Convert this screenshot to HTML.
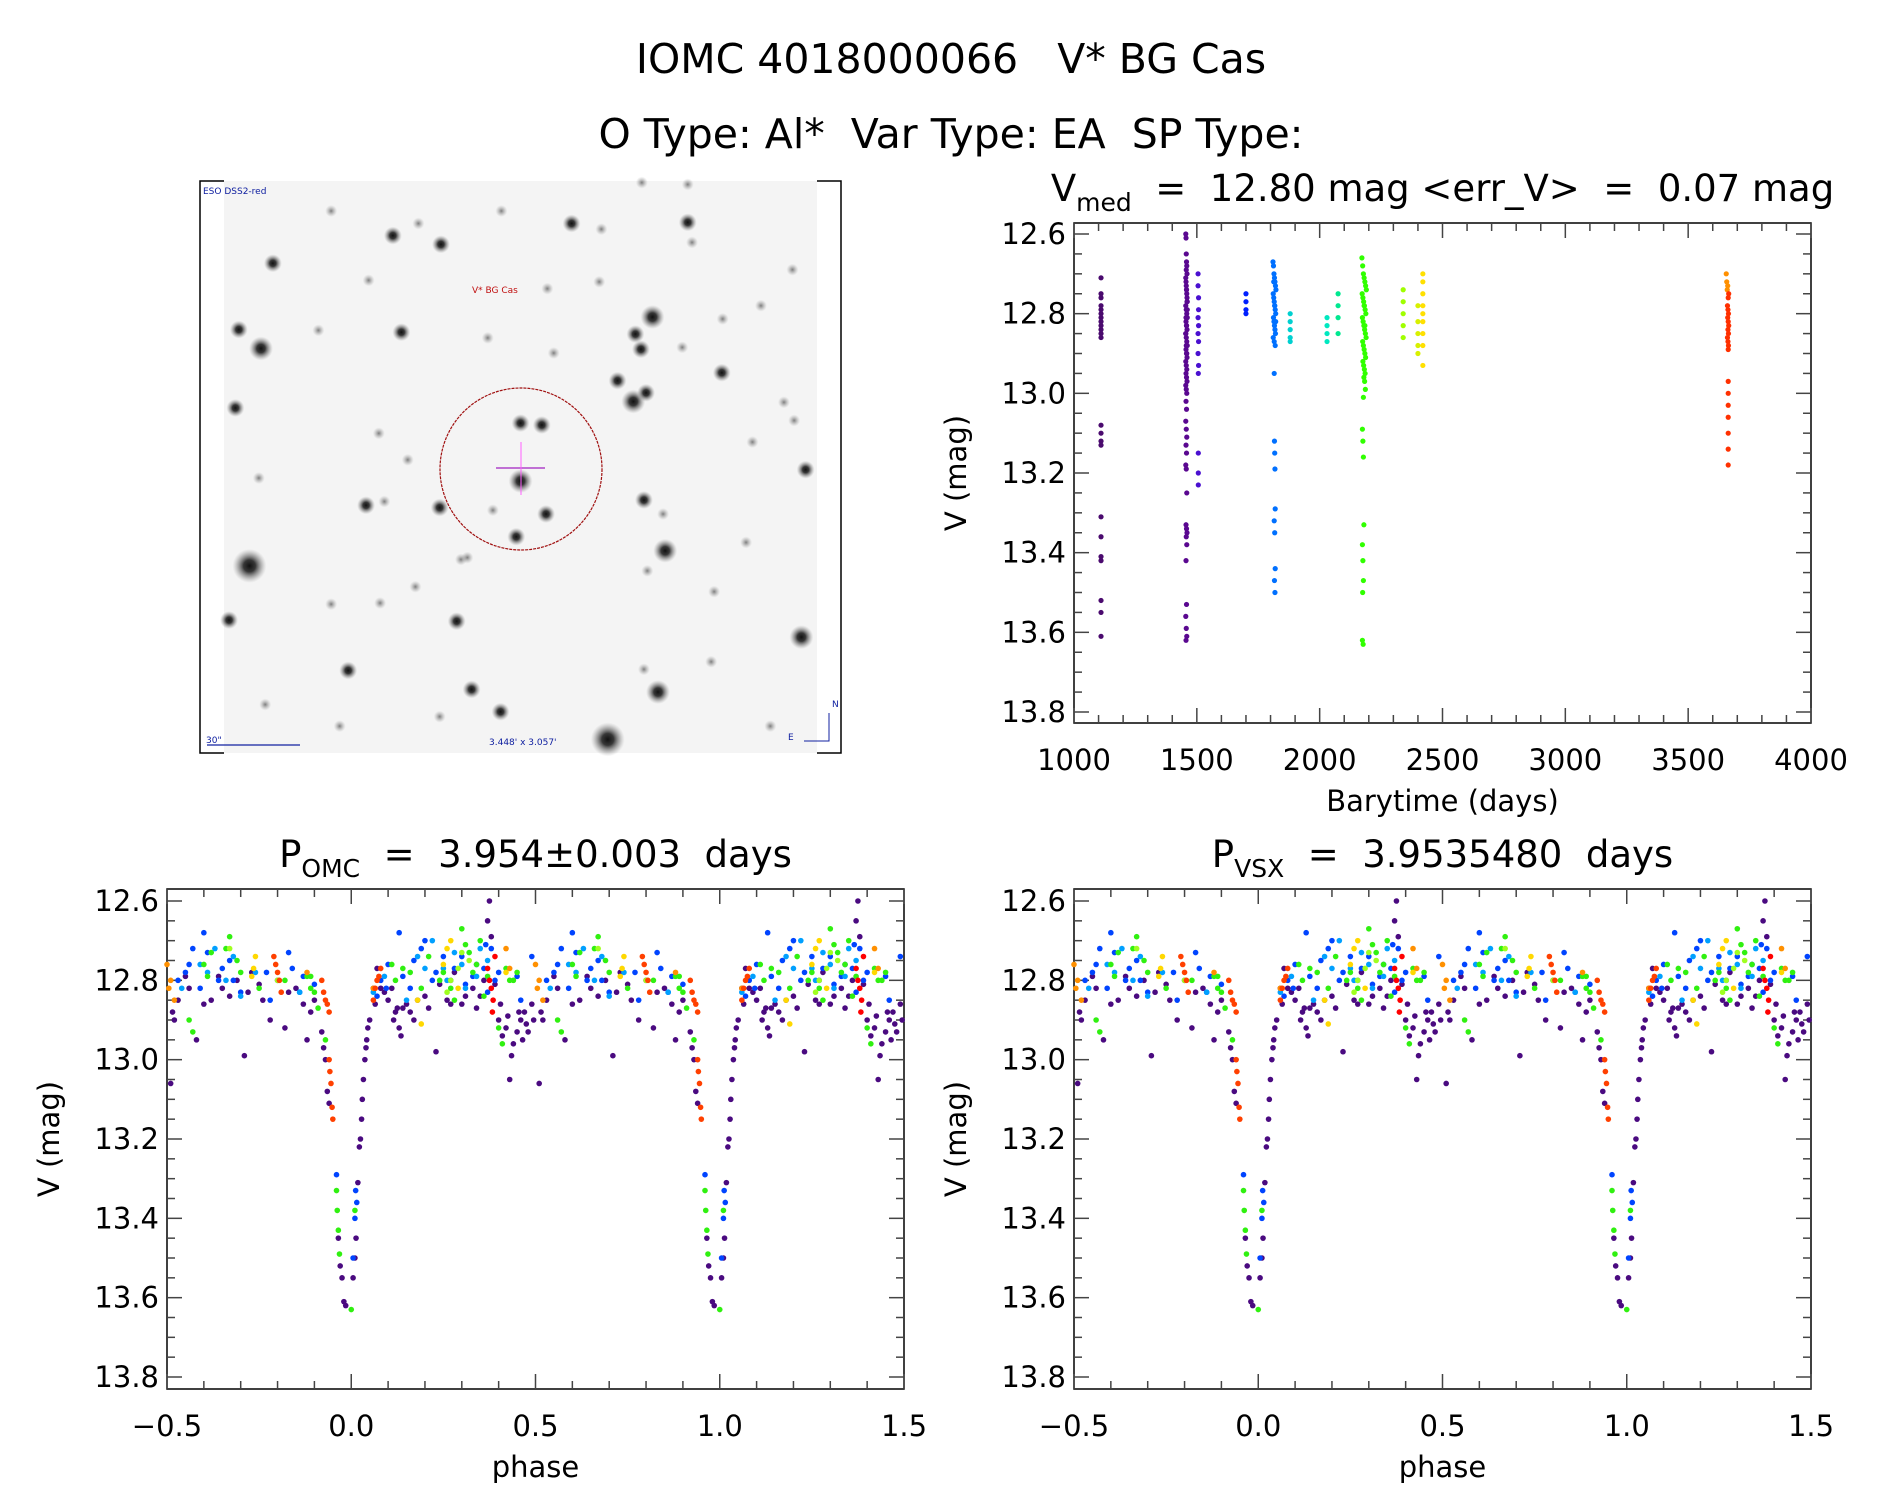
<!DOCTYPE html>
<html><head><meta charset="utf-8"><style>
html,body{margin:0;padding:0;background:#fff;}
svg{display:block;font-family:"DejaVu Sans","Liberation Sans",sans-serif;}
text{white-space:pre;}
</style></head><body>
<svg id="fig" width="1889" height="1494" viewBox="0 0 1889 1494" xmlns="http://www.w3.org/2000/svg">
<defs>
<radialGradient id="star"><stop offset="0" stop-color="#111" stop-opacity="1"/><stop offset="0.35" stop-color="#222" stop-opacity="0.9"/><stop offset="0.7" stop-color="#666" stop-opacity="0.45"/><stop offset="1" stop-color="#999" stop-opacity="0"/></radialGradient>
<radialGradient id="starf"><stop offset="0" stop-color="#555" stop-opacity="0.75"/><stop offset="1" stop-color="#999" stop-opacity="0"/></radialGradient>
</defs>
<text x="951" y="73" font-size="41" text-anchor="middle">IOMC 4018000066   V* BG Cas</text>
<text x="951" y="148" font-size="41" text-anchor="middle">O Type: Al*  Var Type: EA  SP Type:</text>
<g id="img"></g>
<g id="tr"></g>
<g id="bl"></g>
<g id="br"></g>
</svg>
<script>
// ---------- data: light curve (Barytime, V) ----------
const ltSeason1T=[1110,1110,1110,1110,1110,1110,1110,1110,1110,1110,1110,1110,1110,1110,1110,1110,1110,1110,1110,1110,1110,1110,1110];
const ltSeason1V=[12.71,12.75,12.76,12.78,12.79,12.80,12.81,12.82,12.83,12.84,12.85,12.86,13.08,13.10,13.12,13.13,13.31,13.36,13.41,13.42,13.52,13.55,13.61];
const ltSeason2T=[1455,1456,1457,1458,1459,1460,1455,1456,1457,1458,1459,1460,1461,1455,1457,1459,1461,1456,1458,1460,1455,1457,1459,1461,1456,1458,1460,1455,1457,1459,1456,1458,1460,1455,1457,1459,1461,1456,1458,1460,1455,1457,1459,1456,1458,1455,1457,1459,1456,1458,1455,1457,1459,1456,1458,1460,1457,1459,1456,1458,1455,1457,1459,1456,1458,1457];
const ltSeason2V=[12.60,12.61,12.65,12.67,12.68,12.70,12.71,12.72,12.73,12.74,12.75,12.76,12.77,12.78,12.79,12.80,12.81,12.82,12.83,12.84,12.85,12.86,12.87,12.88,12.89,12.90,12.91,12.92,12.93,12.94,12.95,12.96,12.97,12.98,12.99,13.00,12.79,12.81,12.83,12.77,12.85,12.88,12.90,13.02,13.04,13.07,13.09,13.11,13.13,13.15,13.18,13.19,13.25,13.33,13.34,13.35,13.36,13.38,13.42,13.53,13.56,13.59,13.61,13.62,12.74,12.69];
const ltSeason3T=[1505,1505,1507,1507,1505,1507,1505,1507,1505,1507,1506,1506,1506,1506];
const ltSeason3V=[12.70,12.73,12.76,12.79,12.81,12.83,12.85,12.87,12.90,12.93,12.95,13.15,13.20,13.23];
const ltSeason4T=[1700,1700,1700,1700];
const ltSeason4V=[12.75,12.77,12.79,12.80];
const ltSeason5T=[1810,1812,1814,1816,1818,1820,1822,1811,1813,1815,1817,1819,1821,1812,1814,1816,1818,1820,1811,1815,1819,1813,1817,1821,1815,1816,1817,1818,1819,1815,1817,1819,1816,1818];
const ltSeason5V=[12.67,12.68,12.70,12.71,12.72,12.73,12.74,12.75,12.76,12.77,12.78,12.79,12.80,12.81,12.82,12.83,12.84,12.85,12.86,12.87,12.88,12.72,12.78,12.82,12.95,13.12,13.15,13.19,13.29,13.32,13.35,13.44,13.47,13.50];
const ltSeason6T=[1880,1880,1880,1880,1880,2030,2030,2030,2030,2075,2075,2075,2075];
const ltSeason6V=[12.80,12.82,12.84,12.86,12.87,12.81,12.83,12.85,12.87,12.75,12.78,12.81,12.85];
const ltSeason7T=[2172,2175,2178,2181,2184,2187,2190,2173,2176,2179,2182,2185,2188,2174,2177,2180,2183,2186,2189,2175,2178,2181,2184,2187,2176,2179,2182,2185,2180,2183,2186,2178,2181,2184,2174,2176,2178,2180,2174,2176,2178,2175,2177,2174];
const ltSeason7V=[12.66,12.68,12.70,12.71,12.72,12.73,12.74,12.75,12.76,12.77,12.78,12.79,12.80,12.81,12.82,12.83,12.84,12.85,12.86,12.87,12.88,12.89,12.90,12.91,12.92,12.93,12.94,12.95,12.96,12.97,12.99,13.01,12.78,12.83,13.09,13.12,13.16,13.33,13.38,13.42,13.47,13.50,13.63,13.62];
const ltSeason8T=[2340,2340,2340,2340,2340,2400,2400,2400,2400,2400,2420,2420,2420,2420,2420,2420,2420,2420,2420];
const ltSeason8V=[12.74,12.77,12.80,12.83,12.86,12.78,12.82,12.85,12.88,12.90,12.70,12.72,12.75,12.78,12.80,12.82,12.85,12.88,12.93];
const ltSeason9T=[3655,3657,3659,3661,3663,3665,3660,3662,3664,3661,3663,3665,3662,3664,3660,3662,3664,3663,3663,3663,3663,3663,3663,3663,3663];
const ltSeason9V=[12.70,12.72,12.74,12.73,12.76,12.75,12.78,12.79,12.80,12.81,12.82,12.83,12.84,12.85,12.86,12.87,12.88,12.89,12.97,13.00,13.03,13.06,13.10,13.14,13.18];
const ltColors=["#4a0a6e","#5a0890","#4a10d0","#0020ff","#0070ff","#00d0d0","#30ff00","#d8f000","#ff3000"];

// ---------- data: folded light curve (phase, V) by colour group ----------
const phDarkP=[-0.49,-0.48,-0.47,-0.42,-0.38,-0.35,-0.31,-0.29,-0.27,-0.24,-0.2,-0.18,-0.15,-0.12,-0.1,0.07,0.09,0.12,0.13,0.15,0.17,0.2,0.23,0.26,0.28,0.3,0.33,0.36,0.375,0.4,0.42,0.44,0.46,0.48,0.47,0.14,0.11,0.35,0.39,0.43,-0.45,-0.08,-0.075,-0.07,-0.065,-0.06,-0.035,-0.03,-0.025,-0.02,-0.015,0.005,0.01,0.013,0.018,0.022,0.025,0.03,0.033,0.037,0.042,0.05,
 -0.485,-0.44,-0.4,-0.36,-0.33,-0.28,-0.25,-0.22,-0.17,-0.13,-0.11,0.08,0.1,0.115,0.125,0.135,0.16,0.18,0.21,0.24,0.27,0.31,0.34,0.37,0.38,0.405,0.41,0.425,0.435,0.45,0.455,0.465,0.475,0.49,0.495,0.06,0.065,0.045,0.04,0.028];
const vDarkP=[13.06,12.9,12.85,12.95,12.85,12.82,12.8,12.99,12.78,12.85,12.8,12.92,12.82,12.95,12.85,12.77,12.83,12.88,12.92,12.86,12.9,12.84,12.98,12.85,12.78,12.86,12.82,12.8,12.6,12.9,12.92,12.96,12.9,12.93,12.88,12.87,12.82,12.84,12.81,13.05,12.79,12.93,12.97,13.0,13.08,13.11,13.45,13.52,13.55,13.61,13.62,13.55,13.5,13.45,13.31,13.22,13.2,13.1,13.05,13.0,12.95,12.9,
 12.88,12.82,12.86,12.79,12.84,12.83,12.81,12.9,12.83,12.86,12.88,12.82,12.85,12.9,12.87,12.94,12.88,12.85,12.87,12.81,12.86,12.84,12.87,12.65,12.69,12.86,12.94,12.89,12.99,12.93,12.88,12.95,12.91,12.86,12.9,12.82,12.86,12.92,12.97,13.15];
const phBlue=[-0.45,-0.43,-0.4,-0.36,-0.33,-0.3,-0.22,-0.17,-0.13,-0.1,0.08,0.1,0.13,0.16,0.2,0.23,0.27,0.3,0.33,0.36,0.38,0.4,0.46,0.49,-0.04,0.012,0.015,0.01,0.005,
 -0.47,-0.44,-0.41,-0.39,-0.35,-0.32,-0.23,-0.16,-0.14,0.07,0.095,0.14,0.17,0.19,0.22,0.25,0.28,0.31,0.34,0.365,0.39,0.37,0.45];
const vBlue=[12.78,12.72,12.68,12.8,12.75,12.83,12.85,12.73,12.79,12.81,12.8,12.76,12.68,12.82,12.7,12.78,12.8,12.74,12.79,12.77,12.72,12.78,12.85,12.74,13.29,13.33,13.36,13.4,13.5,
 12.8,12.76,12.82,12.73,12.77,12.8,12.78,12.77,12.83,12.84,12.82,12.79,12.75,12.72,12.8,12.74,12.77,12.81,12.76,12.71,12.8,12.83,12.79];
const phAzure=[-0.46,-0.41,-0.37,-0.34,-0.3,-0.26,-0.14,0.06,0.09,0.15,0.18,0.22,0.25,0.28,0.31,0.34,0.37,-0.39,-0.32,0.2,0.26,0.3,0.35];
const vAzure=[12.82,12.76,12.72,12.8,12.84,12.78,12.83,12.83,12.79,12.85,12.74,12.7,12.77,12.73,12.82,12.79,12.75,12.78,12.74,12.77,12.8,12.76,12.72];
const phGreen=[-0.44,-0.4,-0.38,-0.33,-0.3,-0.25,-0.18,-0.12,-0.11,-0.09,-0.07,0.11,0.16,0.21,0.24,0.27,0.3,0.32,0.35,0.37,0.41,0.43,0.45,-0.04,-0.038,-0.035,-0.032,0.0,0.01,
 -0.43,-0.39,-0.34,-0.31,-0.11,-0.1,0.12,0.14,0.19,0.25,0.28,0.31,0.33,0.34,0.36,0.4,0.42,0.44];
const vGreen=[12.9,12.76,12.73,12.69,12.78,12.82,12.8,12.79,12.82,12.87,12.95,12.76,12.78,12.74,12.8,12.82,12.67,12.73,12.7,12.79,12.96,12.8,12.78,13.33,13.38,13.43,13.49,13.63,13.38,
 12.93,12.79,12.72,12.75,12.79,12.83,12.8,12.77,12.82,12.78,12.85,12.71,12.78,12.76,12.84,12.92,12.77,12.8];
const phYGreen=[-0.33,-0.2,0.26,0.29,0.32,0.27,0.3];
const vYGreen=[12.72,12.8,12.83,12.77,12.75,12.8,12.73];
const phYellow=[-0.27,-0.26,0.18,0.19,0.25,0.26,0.29,0.42,0.27,-0.265];
const vYellow=[12.79,12.74,12.85,12.91,12.76,12.72,12.82,12.78,12.7,12.77];
const phOrange=[-0.5,-0.49,-0.12,0.06,0.42,0.43,-0.495,0.52];
const vOrange=[12.76,12.8,12.78,12.82,12.72,12.77,12.82,12.85];
const phRedOr=[-0.21,-0.2,-0.19,-0.08,-0.07,-0.06,0.06,0.07,0.08,-0.06,-0.058,-0.055,-0.052,-0.05,-0.205,-0.195,0.065,0.075,-0.075,-0.065];
const vRedOr=[12.74,12.78,12.83,12.8,12.85,12.88,12.85,12.8,12.77,13.0,13.03,13.06,13.12,13.15,12.76,12.8,12.82,12.79,12.83,12.86];
const phRed=[0.37,0.38,0.385,0.39,0.375,0.383];
const vRed=[12.77,12.82,12.85,12.74,12.8,12.88];

const yTicks=["12.6","12.8","13.0","13.2","13.4","13.6","13.8"];
const tTicks=["1000","1500","2000","2500","3000","3500","4000"];
const pTicks=["\u22120.5","0.0","0.5","1.0","1.5"];

const NS="http://www.w3.org/2000/svg";
function mk(tag,attrs,parent){const e=document.createElementNS(NS,tag);for(const k in attrs)e.setAttribute(k,attrs[k]);parent.appendChild(e);return e;}

function axes(g,L,R,T,B,y0p,y1p,xmin,xmax,xMajor,xMinor,xLabels,xTitle,title,titleSub,titleRest){
  const ys=v=>y0p+(v-12.6)/(1.2)*(y1p-y0p);
  const xs=v=>L+(v-xmin)/(xmax-xmin)*(R-L);
  const fr=mk('rect',{x:L,y:T,width:R-L,height:B-T,fill:'none',stroke:'#000','stroke-width':1.5},g);
  
  
  for(let v=12.6;v<=13.85;v+=0.05){const y=ys(v);const maj=Math.abs((v*10)-Math.round(v*10))<0.01&&Math.round(v*10)%2===0;const len=maj?15:8;
    mk('line',{x1:L,x2:L+len,y1:y,y2:y,stroke:'#444','stroke-width':1.5},g);mk('line',{x1:R,x2:R-len,y1:y,y2:y,stroke:'#444','stroke-width':1.5},g);}
  yTicks.forEach((t,i)=>{const tx=mk('text',{x:L-8,y:ys(12.6+0.2*i)+10,'font-size':29,'text-anchor':'end'},g);tx.textContent=t;
    
    });
  for(let v=xmin;v<=xmax+1e-9;v+=xMinor){const x=xs(v);const r=(v-xmin)/xMajor;const maj=Math.abs(r-Math.round(r))<1e-6;const len=maj?15:8;
    mk('line',{x1:x,x2:x,y1:B,y2:B-len,stroke:'#444','stroke-width':1.5},g);mk('line',{x1:x,x2:x,y1:T,y2:T+len,stroke:'#444','stroke-width':1.5},g);}
  xLabels.forEach((t,i)=>{const tx=mk('text',{x:xs(xmin+xMajor*i),y:B+47,'font-size':29,'text-anchor':'middle'},g);tx.textContent=t;
    
    });
  const xt=mk('text',{x:(L+R)/2,y:B+88,'font-size':29,'text-anchor':'middle'},g);xt.textContent=xTitle;
  
  
  const yt=mk('text',{x:0,y:0,'font-size':29,'text-anchor':'middle',transform:`translate(${L-108},${(T+B)/2}) rotate(-90)`},g);yt.textContent='V (mag)';
  
  
  const tt=mk('text',{x:(L+R)/2,y:T-22,'font-size':37,'text-anchor':'middle'},g);
  
  
  const a=mk('tspan',{},tt);a.textContent=title;
  const b=mk('tspan',{'font-size':25,dy:10},tt);b.textContent=titleSub;
  const c=mk('tspan',{dy:-10},tt);c.textContent=titleRest;
  return {xs,ys};
}

// top right light curve
(function(){
  const g=document.getElementById('tr');
  const ax=axes(g,1074,1811,223,723,234,712,1000,4000,500,100,tTicks,'Barytime (days)','V','med','  =  12.80 mag <err_V>  =  0.07 mag');
  const ts=[ltSeason1T,ltSeason2T,ltSeason3T,ltSeason4T,ltSeason5T,ltSeason6T,ltSeason7T,ltSeason8T,ltSeason9T];
  const vs=[ltSeason1V,ltSeason2V,ltSeason3V,ltSeason4V,ltSeason5V,ltSeason6V,ltSeason7V,ltSeason8V,ltSeason9V];
  ts.forEach((T,k)=>{T.forEach((t,i)=>{let col=ltColors[k];
    if(k===5&&t>2000)col=t>2050?'#00e890':'#00e8c0';
    if(k===7)col=t<2350?'#a0ff00':(t<2410?'#d8f000':'#ffe000');
    if(k===8&&vs[k][i]<12.77&&t<3662)col='#ff9000';
    const c=mk('circle',{cx:ax.xs(t),cy:ax.ys(vs[k][i]),r:2.6,fill:col},g);
    
    });});
})();

// phase panels
function phasePanel(id,L,R,title,rest){
  const g=document.getElementById(id);
  const ax=axes(g,L,R,889,1389,901,1377,-0.5,1.5,0.5,0.1,pTicks,'phase','P',title,rest);
  const groups=[[phDarkP,vDarkP,'#4a0a80'],[phBlue,vBlue,'#0044ff'],[phAzure,vAzure,'#00a0ff'],[phGreen,vGreen,'#30f010'],[phYGreen,vYGreen,'#a0ff20'],[phYellow,vYellow,'#ffd800'],[phOrange,vOrange,'#ff9000'],[phRedOr,vRedOr,'#ff4000'],[phRed,vRed,'#ff0000']];
  groups.forEach(([P,V,col])=>{P.forEach((p,i)=>{[-1,0,1].forEach(s=>{const q=p+s;if(q<-0.5||q>1.5)return;
    const c=mk('circle',{cx:ax.xs(q),cy:ax.ys(V[i]),r:2.8,fill:col},g);
    
    });});});
}
phasePanel('bl',167,904,'OMC','  =  3.954\u00b10.003  days');
phasePanel('br',1074,1811,'VSX','  =  3.9535480  days');

// sky image
const skyStars=[[320,95,1],[578,183,2],[465,160,2],[885,128,2],[1158,125,2],[1168,178,1],[1158,25,1],[183,233,2],[955,143,1],[1404,250,1],[828,300,1],[950,282,1],[103,408,2],[155,458,3],[485,415,2],[290,410,1],[1075,375,3],[1035,420,2],[1048,460,2],[1238,522,2],[993,543,2],[1030,598,3],[1060,575,2],[95,615,2],[1408,648,1],[1384,600,1],[1435,778,2],[765,655,2],[815,660,2],[765,808,3],[825,895,2],[700,885,1],[755,955,2],[575,878,2],[402,872,2],[445,862,1],[500,752,1],[432,682,1],[1055,858,2],[1100,895,1],[1105,992,3],[1063,1045,1],[128,1032,4],[625,1015,1],[518,1087,1],[1220,1100,1],[615,1178,2],[80,1175,2],[1425,1220,3],[1088,1365,3],[650,1358,2],[718,1417,2],[360,1308,2],[1055,1305,1],[970,1490,4],[1352,1455,1],[340,1455,1],[843,470,1],[688,430,1],[1330,345,1],[1240,380,1],[1145,455,1],[1310,705,1],[1295,970,1],[1213,1285,1],[575,1430,1],[435,1130,1],[320,1133,1],[165,1398,1],[150,800,1],[525,128,1],[408,278,1],[720,95,1],[1050,20,1],[640,1010,1]];
(function(){
  const g=document.getElementById('img');
  mk('rect',{x:224,y:181,width:593,height:572,fill:'#f4f4f4'},g);
  mk('path',{d:'M224 181 H200 V753 H224 M817 181 H841 V753 H817',fill:'none',stroke:'#000','stroke-width':1.5},g);
  const rs=[0,6,9,12,17];
  skyStars.forEach(([zx,zy,s])=>{const c=mk('circle',{cx:195+zx/2.35,cy:175+zy/2.64,r:rs[s],fill:s>1?'url(#star)':'url(#starf)'},g);
    
    });
  mk('circle',{cx:521,cy:469,r:81,fill:'none',stroke:'#a01010','stroke-width':1.2,'stroke-dasharray':'3 1'},g);
  mk('line',{x1:496,x2:545,y1:468,y2:468,stroke:'#a020c0','stroke-width':1.2},g);
  mk('line',{x1:521,x2:521,y1:442,y2:495,stroke:'#ff60ff','stroke-width':1},g);
  const add=(x,y,s,t,col,n)=>{const e=mk('text',{x,y,'font-size':s,fill:col},g);e.textContent=t;};
  add(203,194,9,'ESO DSS2-red','#1020a0','survey-label');
  add(472,293,9,'V* BG Cas','#c01010','target-label');
  add(206,743,9,'30"','#1020a0','scale-label');
  add(489,745,9,"3.448' x 3.057'",'#1020a0','fov-label');
  add(788,740,9,'E','#1020a0','east-label');
  add(832,707,9,'N','#1020a0','north-label');
  mk('line',{x1:207,x2:300,y1:745,y2:745,stroke:'#1020a0','stroke-width':1.2},g);
  mk('path',{d:'M804 741 H829 V713',fill:'none',stroke:'#1020a0','stroke-width':1},g);
})();
</script>
</body></html>
